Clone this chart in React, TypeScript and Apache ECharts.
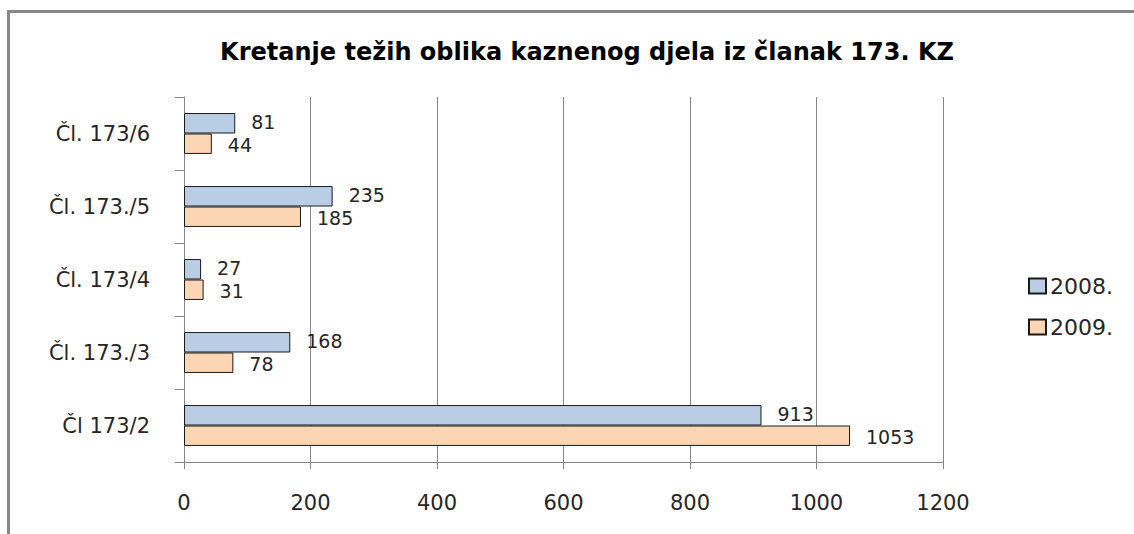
import React, { useEffect, useRef } from "react";
import * as echarts from "echarts";

const categories = ["Čl 173/2", "Čl. 173./3", "Čl. 173/4", "Čl. 173./5", "Čl. 173/6"];
const seriesNames = ["2008.", "2009."];
const values2008 = [913, 168, 27, 235, 81];
const values2009 = [1053, 78, 31, 185, 44];
const titleText = "Kretanje težih oblika kaznenog djela iz članak 173. KZ";

const FONT = "DejaVu Sans";

export default function App() {
  const ref = useRef<HTMLDivElement>(null);
  useEffect(() => {
    document.body.style.margin = "0";
    if (!ref.current) return;
    const chart = echarts.init(ref.current, null, { renderer: "svg" });
    const labelBase = {
      show: true,
      position: "right",
      distance: 16,
      fontFamily: FONT,
      fontSize: 19,
      lineHeight: 18,
      color: "#262626",
    };
    chart.setOption({
      animation: false,
      backgroundColor: "#ffffff",
      title: {
        text: titleText,
        left: 582,
        textAlign: "center",
        top: 35,
        textStyle: { fontFamily: FONT, fontSize: 24, fontWeight: "bold", color: "#000" },
      },
      legend: {
        data: seriesNames,
        orient: "vertical",
        left: 1023,
        top: 270,
        icon: "rect",
        itemWidth: 17,
        itemHeight: 15,
        itemGap: 19,
        textStyle: { fontFamily: FONT, fontSize: 22, color: "#262626", padding: [0, 0, 0, -1] },
      },
      grid: { left: 184, right: 191, top: 97, bottom: 72, containLabel: false },
      xAxis: {
        type: "value",
        min: 0,
        max: 1200,
        interval: 200,
        axisLine: { show: true, lineStyle: { color: "#868686", width: 1 } },
        axisTick: { show: true, length: 7, lineStyle: { color: "#868686" } },
        splitLine: { show: true, lineStyle: { color: "#868686", width: 1 } },
        axisLabel: {
          margin: 30,
          fontFamily: FONT,
          fontSize: 21,
          color: "#262626",
          formatter: (v: number) => String(v),
        },
      },
      yAxis: {
        type: "category",
        data: categories,
        axisLine: { show: true, lineStyle: { color: "#868686", width: 1 } },
        axisTick: { show: true, length: 9, lineStyle: { color: "#868686" } },
        axisLabel: { margin: 34, fontFamily: FONT, fontSize: 21, color: "#262626" },
      },
      series: [
        {
          name: seriesNames[0],
          type: "bar",
          data: values2008,
          barGap: "0%",
          barCategoryGap: "44%",
          itemStyle: { color: "#B9CDE5", borderColor: "#1a1a1a", borderWidth: 1 },
          label: { ...labelBase, offset: [0, -1] },
        },
        {
          name: seriesNames[1],
          type: "bar",
          data: values2009,
          barGap: "0%",
          barCategoryGap: "44%",
          itemStyle: { color: "#FCD5B5", borderColor: "#1a1a1a", borderWidth: 1 },
          label: { ...labelBase, offset: [0, 1] },
        },
      ],
      graphic: [
        {
          type: "polyline",
          shape: { points: [[8.5, 534], [8.5, 11.5], [1134, 11.5]] },
          style: { stroke: "#878787", lineWidth: 3, fill: null },
          silent: true,
        },
      ],
    });
    return () => chart.dispose();
  }, []);
  return <div ref={ref} style={{ width: 1134, height: 534 }} />;
}
